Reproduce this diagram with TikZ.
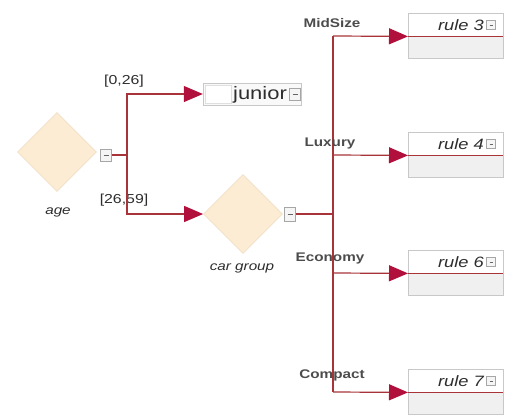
\documentclass[tikz,border=0pt]{standalone}
\usepackage{fontspec}
\setmainfont[FakeStretch=1.22]{Liberation Sans}
\usetikzlibrary{shapes.geometric,arrows.meta,positioning}
\definecolor{connred}{RGB}{168,52,58}
\definecolor{tipred}{RGB}{178,16,60}
\definecolor{diafill}{RGB}{252,236,212}
\definecolor{diaedge}{RGB}{242,224,200}
\definecolor{boxedge}{RGB}{200,200,200}
\definecolor{bodyfill}{RGB}{240,240,240}
\definecolor{txt}{RGB}{45,45,45}
\tikzset{
  conn/.style={draw=connred, line width=1.2pt},
  tipped/.style={conn, -{Triangle[length=19pt,width=16pt,fill=tipred,color=tipred]}},
  diam/.style={diamond, draw=diaedge, line width=0.8pt, fill=diafill, minimum width=79pt, minimum height=79pt, inner sep=0pt},
  tog/.style={rectangle, draw=gray!70, fill=gray!8, line width=0.6pt, minimum width=11pt, minimum height=12pt, inner sep=0pt,
    path picture={\draw[gray!80!black, line width=0.9pt] ([xshift=3pt]path picture bounding box.west) -- ([xshift=-3pt]path picture bounding box.east);}},
  smalltog/.style={tog, minimum width=9pt, minimum height=9pt},
  nodelbl/.style={text=txt, font=\fontsize{12.5}{14}\selectfont\itshape, inner sep=0pt},
  rng/.style={text=txt, font=\fontsize{13}{15}\selectfont, inner sep=0pt},
  br/.style={text=txt!85, font=\fontsize{12.5}{15}\selectfont\bfseries, inner sep=0pt},
  head/.style={rectangle, draw=boxedge, fill=white, minimum width=95pt, minimum height=23pt, inner sep=0pt, anchor=north west},
  body/.style={rectangle, draw=boxedge, fill=bodyfill, minimum width=95pt, minimum height=22pt, inner sep=0pt, anchor=north west},
  title/.style={text=txt, font=\fontsize{15}{17}\selectfont\itshape, inner sep=0pt, anchor=east},
}
\begin{document}
\begin{tikzpicture}[x=1pt,y=-1pt]
\useasboundingbox (0,0) rectangle (505,415);

% age decision
\node[diam] (age) at (57,152) {};
\node[nodelbl] (agelbl) at (58,212) {age};
\node[tog] (agetog) at (106,155) {};
\coordinate (j1) at (127,155);

% junior leaf
\node[rectangle, draw=boxedge, fill=gray!5, minimum width=98pt, minimum height=22pt, inner sep=0pt] (junior) at (252,94) {};
\node[rectangle, draw=gray!25, fill=white, minimum width=26pt, minimum height=18pt, inner sep=0pt] (jfield) at (218,94) {};
\node[text=txt, font=\fontsize{18}{20}\selectfont, inner sep=0pt] (jtext) at (260,95) {junior};
\node[tog] (jtog) at (295,94) {};

% range labels
\node[rng] (r1) at (124,81) {[0,26]};
\node[rng] (r2) at (124,200) {[26,59]};

% car group decision
\node[diam] (car) at (243,214) {};
\node[nodelbl] (carlbl) at (242,268) {car group};
\node[tog, minimum height=14pt] (cartog) at (290,214) {};

\draw[conn] (agetog.east) -- (j1);
\draw[tipped] (j1) |- (junior.west);
\draw[tipped] (j1) |- (car.west);

% trunk
\coordinate (cj) at (333,214);
\coordinate (tA) at (333,36);
\coordinate (tB) at (333,155);
\coordinate (tC) at (333,273);
\coordinate (tD) at (333,392);
\draw[conn] (cartog.east) -- (cj);
\draw[conn] (tA) -- (tD);

% rule boxes
\foreach \nm/\top/\lbl in {r3/13/{rule 3}, r4/132/{rule 4}, r6/250/{rule 6}, r7/369/{rule 7}}{
  \node[head] (\nm h) at (408,\top) {};
  \node[body] (\nm b) at (408,\top+23) {};
  \draw[connred, line width=1pt] (\nm h.south west) -- (\nm h.south east);
  \node[smalltog] (\nm t) at (491,\top+12) {};
  \node[title] (\nm x) at (484,\top+12) {\lbl};
}

\draw[tipped] (tA) -- (r3h.south west);
\draw[tipped] (tB) -- (r4h.south west);
\draw[tipped] (tC) -- (r6h.south west);
\draw[tipped] (tD) -- (r7h.south west);

% branch labels
\node[br] (l1) at (332,23) {MidSize};
\node[br] (l2) at (330,143) {Luxury};
\node[br] (l3) at (330,258) {Economy};
\node[br] (l4) at (332,375) {Compact};
\end{tikzpicture}
\end{document}
